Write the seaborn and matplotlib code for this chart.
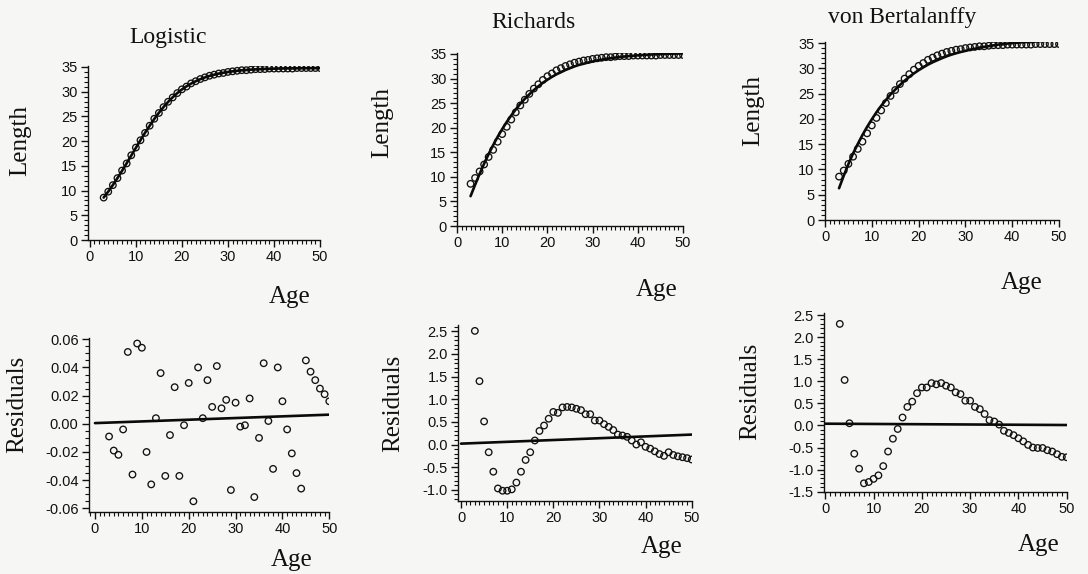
import matplotlib
matplotlib.use("Agg")
import matplotlib.pyplot as plt
from matplotlib.ticker import MultipleLocator, FormatStrFormatter, FixedLocator
import pandas as pd
import seaborn as sns

# Observed length-at-age data (shared by all three fits)
age = [3, 4, 5, 6, 7, 8, 9, 10, 11, 12, 13, 14, 15, 16, 17, 18, 19, 20, 21, 22,
       23, 24, 25, 26, 27, 28, 29, 30, 31, 32, 33, 34, 35, 36, 37, 38, 39, 40,
       41, 42, 43, 44, 45, 46, 47, 48, 49, 50]
length_obs = [8.58, 9.78, 11.10, 12.52, 14.05, 15.49, 17.14, 18.70, 20.18, 21.66,
              23.12, 24.53, 25.70, 26.88, 27.96, 28.84, 29.72, 30.48, 31.04, 31.68,
              32.12, 32.56, 32.90, 33.23, 33.45, 33.68, 33.79, 34.00, 34.12, 34.23,
              34.35, 34.35, 34.46, 34.56, 34.57, 34.58, 34.68, 34.68, 34.69, 34.69,
              34.69, 34.68, 34.79, 34.79, 34.79, 34.79, 34.79, 34.80]

# Residuals (observed - fitted) for each growth model
resid_logistic = [-0.009, -0.019, -0.022, -0.004, 0.051, -0.036, 0.057, 0.054, -0.020, -0.043,
                  0.004, 0.036, -0.037, -0.008, 0.026, -0.037, -0.001, 0.029, -0.055, 0.040,
                  0.004, 0.031, 0.012, 0.041, 0.011, 0.017, -0.047, 0.015, -0.002, -0.001,
                  0.018, -0.052, -0.010, 0.043, 0.002, -0.032, 0.040, 0.016, -0.004, -0.021,
                  -0.035, -0.046, 0.045, 0.037, 0.031, 0.025, 0.021, 0.016]
resid_richards = [2.51, 1.40, 0.51, -0.17, -0.60, -0.97, -1.02, -1.02, -0.99, -0.84,
                  -0.60, -0.34, -0.17, 0.09, 0.30, 0.42, 0.57, 0.72, 0.70, 0.82,
                  0.83, 0.82, 0.79, 0.76, 0.67, 0.67, 0.53, 0.53, 0.45, 0.39,
                  0.32, 0.22, 0.20, 0.17, 0.09, 0.00, 0.05, -0.05, -0.09, -0.15,
                  -0.21, -0.25, -0.17, -0.23, -0.26, -0.28, -0.30, -0.33]
resid_vonbert = [2.30, 1.03, 0.05, -0.64, -0.98, -1.31, -1.28, -1.21, -1.13, -0.92,
                 -0.59, -0.30, -0.08, 0.18, 0.42, 0.54, 0.73, 0.86, 0.86, 0.96,
                 0.93, 0.96, 0.90, 0.86, 0.75, 0.71, 0.56, 0.56, 0.42, 0.37,
                 0.26, 0.12, 0.09, 0.02, -0.12, -0.17, -0.22, -0.29, -0.36, -0.44,
                 -0.50, -0.51, -0.51, -0.56, -0.59, -0.65, -0.71, -0.72]

# Straight trend lines through the residuals (value at age 0 and age 50)
trend_age = [0, 50]
trend_logistic = [0.0005, 0.0065]
trend_richards = [0.02, 0.22]
trend_vonbert = [0.04, 0.01]

model_names = ["Logistic", "Richards", "von Bertalanffy"]
age_ticks = [0, 10, 20, 30, 40, 50]

sns.set_style("ticks")
plt.rcParams.update({
    "font.family": ["Liberation Sans", "DejaVu Sans"],
    "axes.unicode_minus": False,
    "axes.linewidth": 1.0,
    "xtick.color": "#111111", "ytick.color": "#111111",
    "axes.edgecolor": "#111111",
})

W, H = 1088, 574
fig = plt.figure(figsize=(W / 100, H / 100), dpi=100, facecolor="#f6f6f5")


def px_axes(left, right, top, bottom):
    return fig.add_axes([left / W, 1 - bottom / H, (right - left) / W, (bottom - top) / H])


def style_axes(ax, xlim, ylim, ymajor, yminor, yfmt):
    ax.set_facecolor("none")
    ax.set_xlim(*xlim)
    ax.set_ylim(*ylim)
    ax.xaxis.set_major_locator(FixedLocator(age_ticks))
    ax.xaxis.set_minor_locator(MultipleLocator(1))
    ax.yaxis.set_major_locator(MultipleLocator(ymajor))
    ax.yaxis.set_minor_locator(MultipleLocator(yminor))
    ax.yaxis.set_major_formatter(FormatStrFormatter(yfmt))
    for s in ("top", "right"):
        ax.spines[s].set_visible(False)
    ax.tick_params(which="major", length=5, width=1.0, labelsize=10.5, pad=2.5)
    ax.tick_params(which="minor", length=2.6, width=0.8)
    ax.set_xlabel("")
    ax.set_ylabel("")


serif = ["Liberation Serif", "DejaVu Serif"]
fitted_sets = []
for resid in (resid_logistic, resid_richards, resid_vonbert):
    fitted_sets.append([round(o - r, 3) for o, r in zip(length_obs, resid)])

# Axes rectangles in pixels: (left, right, top, bottom)
top_rects = [(88, 320, 66, 240), (457, 683, 53, 226), (825, 1059, 42, 220)]
top_xlims = [(-0.4, 50), (0, 50), (0, 50)]
bot_rects = [(89, 329.3, 338.3, 512), (458.3, 691.7, 325, 500.7), (824, 1066.7, 313.3, 491.7)]
bot_xlims = [(-1.28, 50), (-0.59, 50), (-0.27, 50)]
bot_ylims = [(-0.0626, 0.0607), (-1.24, 2.64), (-1.5, 2.54)]
bot_major = [0.02, 0.5, 0.5]
bot_minor = [0.005, 0.1, 0.1]
bot_fmt = ["%.2f", "%.1f", "%.1f"]
residual_sets = [resid_logistic, resid_richards, resid_vonbert]
trend_sets = [trend_logistic, trend_richards, trend_vonbert]

marker_kw = dict(marker="o", s=22, facecolor="none", edgecolor="#111111", linewidth=0.95)

for i in range(3):
    # Growth curve with observations
    ax = px_axes(*top_rects[i])
    df = pd.DataFrame({"Age": age, "Length": length_obs, "Fitted": fitted_sets[i]})
    sns.scatterplot(data=df, x="Age", y="Length", ax=ax, **marker_kw)
    sns.lineplot(data=df, x="Age", y="Fitted", ax=ax, color="#0a0a0a", linewidth=1.9)
    style_axes(ax, top_xlims[i], (0, 35.2), 5, 1, "%d")

    # Residuals against age
    axr = px_axes(*bot_rects[i])
    dr = pd.DataFrame({"Age": age, "Residual": residual_sets[i]})
    sns.scatterplot(data=dr, x="Age", y="Residual", ax=axr, **marker_kw)
    dt = pd.DataFrame({"Age": trend_age, "Trend": trend_sets[i]})
    sns.lineplot(data=dt, x="Age", y="Trend", ax=axr, color="#0a0a0a", linewidth=1.9)
    style_axes(axr, bot_xlims[i], bot_ylims[i], bot_major[i], bot_minor[i], bot_fmt[i])


def ftext(x, y, s, rot=0, size=18):
    fig.text(x / W, 1 - y / H, s, rotation=rot, ha="center", va="center",
             fontsize=size, family=serif, color="#111111")


# Panel titles
ftext(168, 37, model_names[0], size=17)
ftext(533, 23, model_names[1], size=17)
ftext(902, 18, model_names[2], size=17)

# Axis titles
for x, y in [(20, 141), (382, 122), (753, 110)]:
    ftext(x, y, "Length", rot=90)
for x, y in [(290, 297), (657, 290), (1022, 283), (292, 560), (662, 547), (1039, 545)]:
    ftext(x, y, "Age")
for x, y in [(17, 404), (393, 403), (750, 391)]:
    ftext(x, y, "Residuals", rot=90)

fig.savefig("out.png", dpi=100, facecolor=fig.get_facecolor())
